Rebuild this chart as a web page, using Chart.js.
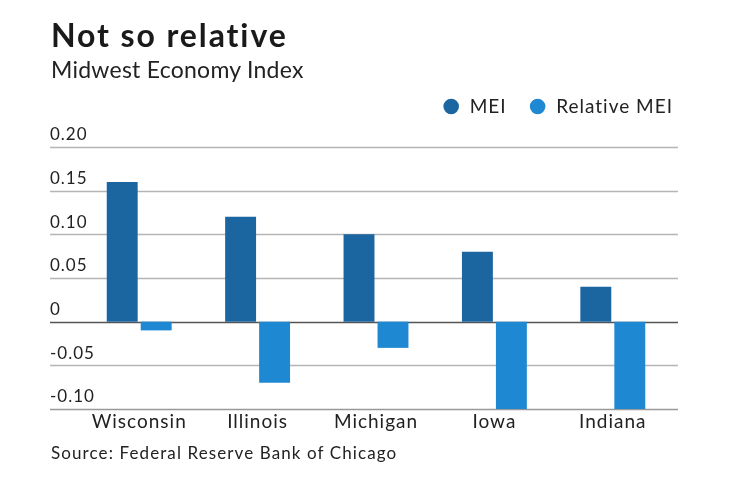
<!DOCTYPE html>
<html>
<head>
<meta charset="utf-8">
<script src="https://cdn.jsdelivr.net/npm/chart.js@4/dist/chart.umd.min.js"></script>
<style>
  body { margin: 0; background: #fff; font-family: Lato, sans-serif; color: #222; }
  #wrap { position: relative; width: 740px; height: 482px; overflow: hidden; }
  #chart { position: absolute; left: 0; top: 0; }
  .txt { position: absolute; left: 51px; line-height: 1; white-space: nowrap; }
  #title { top: 19px; font-size: 32px; font-weight: 700; letter-spacing: 1.9px; color: #1a1a1a; }
  #subtitle { top: 58px; font-size: 23px; letter-spacing: 0.25px; }
  #source { top: 444px; font-size: 17px; letter-spacing: 1.1px; }
</style>
</head>
<body>
<div id="wrap">
  <canvas id="chart" width="740" height="482"></canvas>
  <div class="txt" id="title">Not so relative</div>
  <div class="txt" id="subtitle">Midwest Economy Index</div>
  <div class="txt" id="source">Source: Federal Reserve Bank of Chicago</div>
</div>
<script>
// data
const categories = ['Wisconsin', 'Illinois', 'Michigan', 'Iowa', 'Indiana'];
const meiValues = [0.16, 0.12, 0.10, 0.08, 0.04];
const relativeValues = [-0.01, -0.07, -0.03, -0.10, -0.10];
const seriesNames = ['MEI', 'Relative MEI'];
const yTicks = [-0.10, -0.05, 0, 0.05, 0.10, 0.15, 0.20];
const yTickLabels = ['-0.10', '-0.05', '0', '0.05', '0.10', '0.15', '0.20'];

// wider letters, closer to the original typeface
const spacing = {
  id: 'spacing',
  beforeUpdate(chart) { chart.ctx.letterSpacing = '1px'; },
  beforeLayout(chart) {
    // leave a gap under the legend
    const lg = chart.legend;
    if (lg && !lg._gapAdded) {
      const fit = lg.fit;
      lg.fit = function () { fit.call(this); this.height += 21; };
      lg._gapAdded = true;
    }
  }
};

// horizontal rules, they run wider than the plot area
const gridLines = {
  id: 'gridLines',
  beforeDatasetsDraw(chart) {
    const ctx = chart.ctx;
    const y = chart.scales.y;
    ctx.save();
    yTicks.forEach(v => {
      const py = Math.round(y.getPixelForValue(v)) + 0.5;
      ctx.strokeStyle = v === 0 ? '#555' : (v === yTicks[0] ? '#999' : '#b5b5b5');
      ctx.lineWidth = 1.3;
      ctx.beginPath();
      ctx.moveTo(50, py);
      ctx.lineTo(678, py);
      ctx.stroke();
    });
    ctx.restore();
  }
};

const ctx = document.getElementById('chart');
new Chart(ctx, {
  type: 'bar',
  data: {
    labels: categories,
    datasets: [
      { label: seriesNames[0], data: meiValues, backgroundColor: '#1b65a0' },
      { label: seriesNames[1], data: relativeValues, backgroundColor: '#1f88d2' }
    ]
  },
  options: {
    responsive: false,
    animation: false,
    devicePixelRatio: 1,
    layout: { padding: { top: 75, left: 50, right: 45, bottom: 33 } },
    datasets: { bar: { categoryPercentage: 0.574, barPercentage: 0.91 } },
    plugins: {
      tooltip: { enabled: false },
      legend: {
        position: 'top',
        align: 'end',
        labels: {
          usePointStyle: true,
          pointStyle: 'circle',
          boxWidth: 18,
          boxHeight: 11,
          padding: 22,
          color: '#222',
          font: { family: 'Lato', size: 19 }
        }
      }
    },
    scales: {
      x: {
        grid: { display: false, drawTicks: false },
        border: { display: false },
        ticks: { color: '#222', padding: 1, font: { family: 'Lato', size: 19 } },
        afterFit(scale) { scale.height = 40; }
      },
      y: {
        min: -0.10,
        max: 0.20,
        grid: { display: false, drawTicks: false },
        border: { display: false },
        ticks: {
          stepSize: 0.05,
          mirror: true,
          crossAlign: 'near',
          padding: -30,
          labelOffset: -12,
          color: '#222',
          font: { family: 'Lato', size: 17 },
          callback: (v) => {
            const i = yTicks.findIndex(t => Math.abs(t - v) < 1e-9);
            return i >= 0 ? yTickLabels[i] : '';
          }
        },
        afterFit(scale) { scale.width = 30; scale.paddingTop = 0; scale.paddingBottom = 0; }
      },
      yRight: {
        position: 'right',
        grid: { display: false, drawTicks: false },
        border: { display: false },
        ticks: { display: false },
        afterFit(scale) { scale.width = 23; scale.paddingTop = 0; scale.paddingBottom = 0; }
      }
    }
  },
  plugins: [spacing, gridLines]
});
</script>
</body>
</html>
